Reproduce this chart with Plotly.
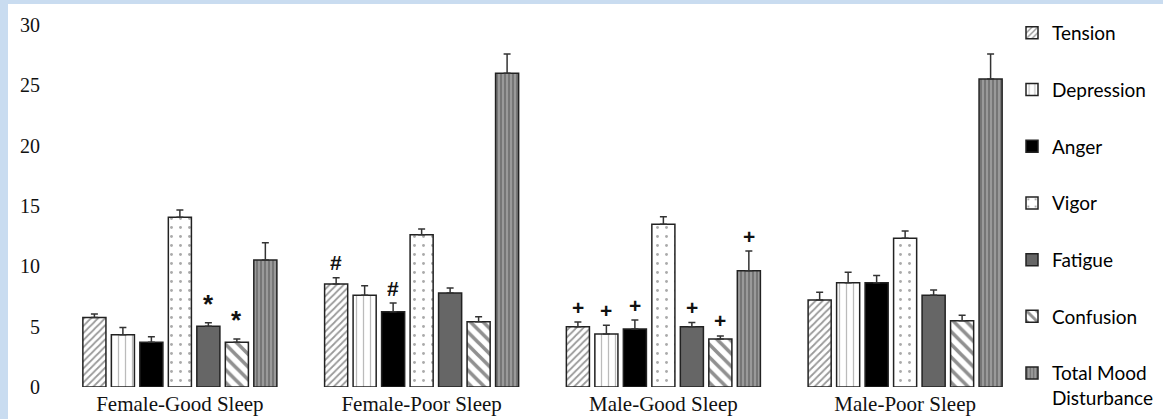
import plotly.graph_objects as go

groups = ["Female-Good Sleep", "Female-Poor Sleep", "Male-Good Sleep", "Male-Poor Sleep"]
series_names = ["Tension", "Depression", "Anger", "Vigor", "Fatigue", "Confusion", "Total Mood<br>Disturbance"]

tension = [5.77, 8.53, 5.00, 7.21]
tension_err = [0.28, 0.53, 0.38, 0.64]
depression = [4.33, 7.60, 4.39, 8.64]
depression_err = [0.61, 0.79, 0.72, 0.86]
anger = [3.70, 6.24, 4.80, 8.64]
anger_err = [0.47, 0.72, 0.75, 0.61]
vigor = [14.06, 12.62, 13.48, 12.32]
vigor_err = [0.60, 0.48, 0.63, 0.60]
fatigue = [5.03, 7.79, 5.00, 7.60]
fatigue_err = [0.30, 0.41, 0.35, 0.44]
confusion = [3.70, 5.41, 3.98, 5.49]
confusion_err = [0.28, 0.42, 0.25, 0.45]
tmd = [10.52, 26.01, 9.64, 25.52]
tmd_err = [1.44, 1.58, 1.63, 2.07]

y_ticks = [0, 5, 10, 15, 20, 25, 30]

# significance markers: (series index, group index, symbol)
markers = [(4, 0, "*"), (5, 0, "*"),
           (0, 1, "#"), (2, 1, "#"),
           (0, 2, "+"), (1, 2, "+"), (2, 2, "+"), (4, 2, "+"), (5, 2, "+"), (6, 2, "+")]

values = [tension, depression, anger, vigor, fatigue, confusion, tmd]
errors = [tension_err, depression_err, anger_err, vigor_err, fatigue_err, confusion_err, tmd_err]

patterns = [
    dict(shape="/", size=5, solidity=0.35, fgcolor="#333333", bgcolor="white"),
    dict(shape="|", size=7, solidity=0.18, fgcolor="#777777", bgcolor="white"),
    dict(shape="", bgcolor="#000000"),
    dict(shape=".", size=9, solidity=0.08, fgcolor="#555555", bgcolor="white"),
    dict(shape="", bgcolor="#666666"),
    dict(shape="\\", size=9, solidity=0.4, fgcolor="#222222", bgcolor="white"),
    dict(shape="|", size=4, solidity=0.35, fgcolor="#333333", bgcolor="#9a9a9a"),
]
colors = ["white", "white", "#000000", "white", "#666666", "white", "#9a9a9a"]

fig = go.Figure()
for i, name in enumerate(series_names):
    fig.add_trace(go.Bar(
        name=name, x=groups, y=values[i],
        legendgroup=f"g{i}",
        marker=dict(color=colors[i], pattern=patterns[i],
                    line=dict(color="#222222", width=1.5)),
        error_y=dict(type="data", symmetric=False, array=errors[i],
                     arrayminus=[0] * len(groups), color="#333333",
                     thickness=1.5, width=3.5),
    ))

BARGAP = 0.175
n = len(series_names)
for si, gi, sym in markers:
    xpos = gi + (si - (n - 1) / 2) * (1 - BARGAP) / n
    big = sym == "*"
    fig.add_annotation(x=xpos, y=values[si][gi] + errors[si][gi], text=f"<b>{sym}</b>",
                       showarrow=False, yanchor="middle", yshift=19 if big else 15,
                       font=dict(family="Liberation Sans", size=26 if big else 21, color="#111111"))

L, R_EDGE, T, B = 59, 1026, 25, 387
W, H = 1163, 419
def px_x(p):
    return (p - L) / (R_EDGE - L)
def px_y(p):
    return (B - p) / (B - T)

BORDER = "#c9dcf0"
# light-blue frame strips (left and top)
fig.add_shape(type="rect", xref="paper", yref="paper", layer="below",
              x0=px_x(0), x1=px_x(8), y0=px_y(H), y1=px_y(0),
              fillcolor=BORDER, line=dict(width=0))
fig.add_shape(type="rect", xref="paper", yref="paper", layer="below",
              x0=px_x(0), x1=px_x(W), y0=px_y(4), y1=px_y(0),
              fillcolor=BORDER, line=dict(width=0))

fig.update_layout(
    width=W, height=H,
    margin=dict(l=L, r=W - R_EDGE, t=T, b=H - B, autoexpand=False),
    paper_bgcolor="white", plot_bgcolor="white",
    barmode="group", bargap=BARGAP, bargroupgap=0.19,
    showlegend=True,
    legend=dict(xref="container", yref="container",
                x=1012 / W, xanchor="left", y=1 - 14 / H, yanchor="top",
                font=dict(family="Lato", size=19, color="#000000"),
                tracegroupgap=29, valign="top", bgcolor="rgba(0,0,0,0)",
                maxheight=H),
    xaxis=dict(showline=False, showgrid=False, zeroline=False, ticks="",
               tickfont=dict(family="Liberation Serif", size=21, color="#111111"),
               ticklabelstandoff=2),
    yaxis=dict(range=[0, 30], tickvals=y_ticks, showline=False, showgrid=False,
               zeroline=False, ticks="",
               tickfont=dict(family="Liberation Serif", size=20, color="#111111"),
               ticklabelstandoff=18),
)

fig.write_html("out.html", config={"displayModeBar": False},
               post_script="document.body.style.margin='0';document.body.style.overflow='hidden';")
